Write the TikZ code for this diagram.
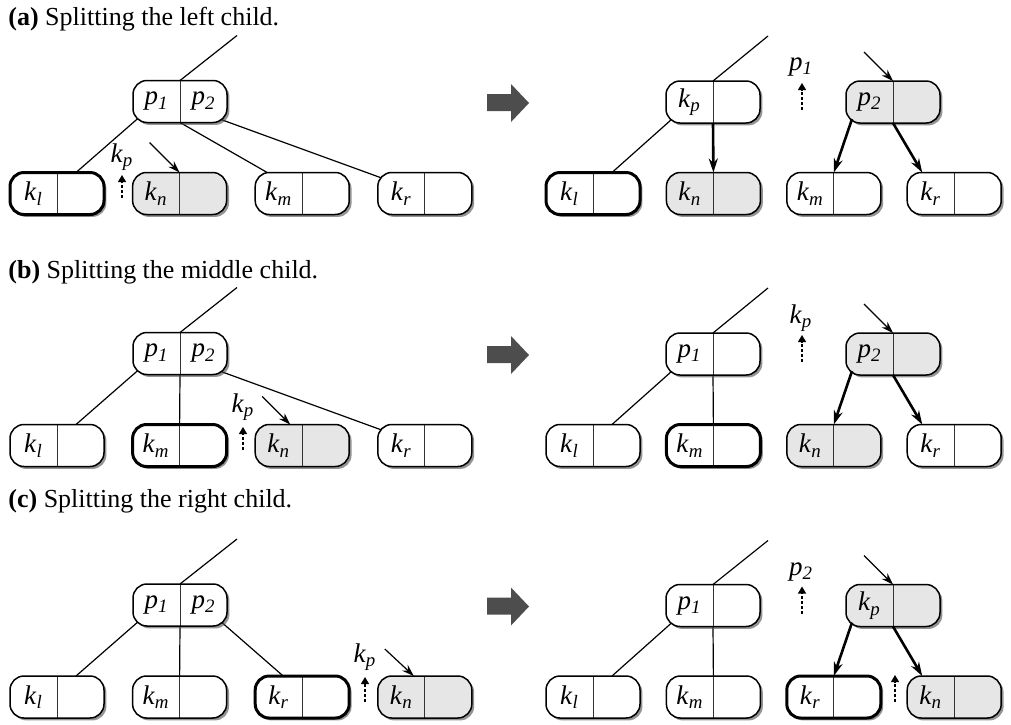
\documentclass[tikz,border=0pt]{standalone}
\usepackage{fontspec}
\setmainfont{Liberation Serif}
\usetikzlibrary{arrows.meta,positioning,calc,shadows,backgrounds}
\definecolor{cellgray}{HTML}{E6E6E6}
\definecolor{bigarrow}{HTML}{4D4D4D}
\newcommand{\cell}[2]{\makebox[23.5pt]{#1}\makebox[23.5pt]{#2}}
\newcommand{\ksub}[2]{\textit{#1}\textsubscript{\textit{#2}}}
\newcommand{\bigarr}{\fill[bigarrow] (487,94) -- (511,94) -- (511,84) -- (529,103)
  -- (511,122) -- (511,111) -- (487,111) -- cycle;}

\begin{document}
\begin{tikzpicture}[x=0.5pt,y=-0.5pt,
    bnode/.style={draw,line width=0.75pt,rounded corners=7pt,fill=white,
                  minimum width=47pt,minimum height=21pt,inner sep=0pt,outer sep=0pt,
                  font=\fontsize{13.5}{15}\selectfont,
                  drop shadow={shadow xshift=1.2pt,shadow yshift=-1.2pt,opacity=0.6,fill=black!70},
                  path picture={\draw[line width=0.5pt,black!80]
                    (path picture bounding box.north) -- (path picture bounding box.south);}},
    grayed/.style={fill=cellgray},
    heavy/.style={line width=1.5pt},
    edge/.style={line width=0.6pt},
    ptr/.style={line width=0.6pt,-{Stealth[length=6pt,width=4pt]}},
    bold/.style={line width=1.3pt,-{Stealth[length=7pt,width=4.5pt]}},
    dotarr/.style={line width=0.6pt,dash pattern=on 1.5pt off 1pt,
                   -{Triangle[length=3.5pt,width=4pt]}},
    lbl/.style={font=\fontsize{13.5}{15}\selectfont,inner sep=0pt},
    title/.style={font=\fontsize{13}{15}\selectfont,anchor=base west,inner sep=0pt}
  ]
  \useasboundingbox (0,0) rectangle (1011,724);

  % titles
  \node[title] (ta) at (8,25) {\textbf{(a)} Splitting the left child.};
  \node[title] (tb) at (8,278) {\textbf{(b)} Splitting the middle child.};
  \node[title] (tc) at (8,507) {\textbf{(c)} Splitting the right child.};

  % (a) left child
  \node[bnode] (a1-root) at (180,101.5) {\cell{\ksub{p}{1}}{\ksub{p}{2}}};
  \node[bnode,heavy] (a1-kl) at (57,193.5) {\cell{\ksub{k}{l}}{}};
  \node[bnode,grayed,right=14.3pt of a1-kl] (a1-kn) {\cell{\ksub{k}{n}}{}};
  \node[bnode,right=14.3pt of a1-kn] (a1-km) {\cell{\ksub{k}{m}}{}};
  \node[bnode,right=14.3pt of a1-km] (a1-kr) {\cell{\ksub{k}{r}}{}};
  \coordinate (a1-up) at (122,198);
  \node[lbl] (a1-kp) at (122,157) {\ksub{k}{p}};
  \bigarr
  \node[bnode] (a2-left) at (713,102) {\cell{\ksub{k}{p}}{}};
  \node[bnode,grayed] (a2-right) at (893,102) {\cell{\ksub{p}{2}}{}};
  \node[bnode,heavy] (a2-kl) at (593,193.5) {\cell{\ksub{k}{l}}{}};
  \node[bnode,grayed,right=13.2pt of a2-kl] (a2-kn) {\cell{\ksub{k}{n}}{}};
  \node[bnode,right=13.2pt of a2-kn] (a2-km) {\cell{\ksub{k}{m}}{}};
  \node[bnode,right=13.2pt of a2-km] (a2-kr) {\cell{\ksub{k}{r}}{}};
  \coordinate (a2-up) at (802,110);
  \node[lbl] (a2-p1) at (801,67) {\ksub{p}{1}};
  \begin{pgfonlayer}{background}
    \draw[edge] (a1-root.north) -- ++(57,-45);
    \draw[edge] ($(a1-root.south west)+(14,-12)$) -- ($(a1-kl.north)+(19,0)$);
    \draw[edge] (a1-root.south) -- ($(a1-km.north)+(-35,0)$);
    \draw[edge] ($(a1-root.south east)+(-17,-7)$) -- ($(a1-kr.north west)+(8,7)$);
    \draw[edge] (a2-left.north) -- ++(55,-45);
    \draw[edge] ($(a2-left.south west)+(15,-12)$) -- ($(a2-kl.north)+(19,0)$);
  \end{pgfonlayer}
  \draw[ptr] (a1-kn.north) ++(-30,-30) -- (a1-kn.north);
  \draw[dotarr] (a1-up) -- ++(0,-23);
  \draw[bold] (a2-left.south) -- (a2-kn.north);
  \draw[bold] ($(a2-right.south west)+(6,-4)$) -- (a2-km.north);
  \draw[bold] (a2-right.south) -- ($(a2-kr.north west)+(15,0)$);
  \draw[ptr] (a2-right.north) ++(-29,-29) -- (a2-right.north);
  \draw[dotarr] (a2-up) -- ++(0,-27);

  % (b) middle child
  \begin{scope}[shift={(0,252)}]
  \node[bnode] (b1-root) at (180,101.5) {\cell{\ksub{p}{1}}{\ksub{p}{2}}};
  \node[bnode] (b1-kl) at (57,193.5) {\cell{\ksub{k}{l}}{}};
  \node[bnode,heavy,right=14.3pt of b1-kl] (b1-km) {\cell{\ksub{k}{m}}{}};
  \node[bnode,grayed,right=14.3pt of b1-km] (b1-kn) {\cell{\ksub{k}{n}}{}};
  \node[bnode,right=14.3pt of b1-kn] (b1-kr) {\cell{\ksub{k}{r}}{}};
  \coordinate (b1-up) at (243,198);
  \node[lbl] (b1-kp) at (243,155) {\ksub{k}{p}};
  \bigarr
  \node[bnode] (b2-left) at (713,102) {\cell{\ksub{p}{1}}{}};
  \node[bnode,grayed] (b2-right) at (893,102) {\cell{\ksub{p}{2}}{}};
  \node[bnode] (b2-kl) at (593,193.5) {\cell{\ksub{k}{l}}{}};
  \node[bnode,heavy,right=13.2pt of b2-kl] (b2-km) {\cell{\ksub{k}{m}}{}};
  \node[bnode,grayed,right=13.2pt of b2-km] (b2-kn) {\cell{\ksub{k}{n}}{}};
  \node[bnode,right=13.2pt of b2-kn] (b2-kr) {\cell{\ksub{k}{r}}{}};
  \coordinate (b2-up) at (802,110);
  \node[lbl] (b2-kp) at (801,66) {\ksub{k}{p}};
  \begin{pgfonlayer}{background}
    \draw[edge] (b1-root.north) -- ++(57,-45);
    \draw[edge] ($(b1-root.south west)+(14,-12)$) -- ($(b1-kl.north)+(19,0)$);
    \draw[edge] (b1-root.south) -- (b1-km.north);
    \draw[edge] ($(b1-root.south east)+(-17,-7)$) -- ($(b1-kr.north west)+(8,7)$);
    \draw[edge] (b2-left.north) -- ++(55,-45);
    \draw[edge] ($(b2-left.south west)+(15,-12)$) -- ($(b2-kl.north)+(19,0)$);
    \draw[edge] (b2-left.south) -- (b2-km.north);
  \end{pgfonlayer}
  \draw[ptr] (b1-kn.north) ++(-40,-28) -- ($(b1-kn.north)+(-12,0)$);
  \draw[dotarr] (b1-up) -- ++(0,-23);
  \draw[bold] ($(b2-right.south west)+(6,-4)$) -- (b2-kn.north);
  \draw[bold] (b2-right.south) -- ($(b2-kr.north west)+(15,0)$);
  \draw[ptr] (b2-right.north) ++(-29,-29) -- (b2-right.north);
  \draw[dotarr] (b2-up) -- ++(0,-27);
  \end{scope}

  % (c) right child
  \begin{scope}[shift={(0,503.5)}]
  \node[bnode] (c1-root) at (180,101.5) {\cell{\ksub{p}{1}}{\ksub{p}{2}}};
  \node[bnode] (c1-kl) at (57,193.5) {\cell{\ksub{k}{l}}{}};
  \node[bnode,right=14.3pt of c1-kl] (c1-km) {\cell{\ksub{k}{m}}{}};
  \node[bnode,heavy,right=14.3pt of c1-km] (c1-kr) {\cell{\ksub{k}{r}}{}};
  \node[bnode,grayed,right=14.3pt of c1-kr] (c1-kn) {\cell{\ksub{k}{n}}{}};
  \coordinate (c1-up) at (365,198.5);
  \node[lbl] (c1-kp) at (365,153.5) {\ksub{k}{p}};
  \bigarr
  \node[bnode] (c2-left) at (713,102) {\cell{\ksub{p}{1}}{}};
  \node[bnode,grayed] (c2-right) at (893,102) {\cell{\ksub{k}{p}}{}};
  \node[bnode] (c2-kl) at (593,193.5) {\cell{\ksub{k}{l}}{}};
  \node[bnode,right=13.2pt of c2-kl] (c2-km) {\cell{\ksub{k}{m}}{}};
  \node[bnode,heavy,right=13.2pt of c2-km] (c2-kr) {\cell{\ksub{k}{r}}{}};
  \node[bnode,grayed,right=13.2pt of c2-kr] (c2-kn) {\cell{\ksub{k}{n}}{}};
  \coordinate (c2-up) at (802,110);
  \coordinate (c2-low) at (895,198.5);
  \node[lbl] (c2-p2) at (801,68.5) {\ksub{p}{2}};
  \begin{pgfonlayer}{background}
    \draw[edge] (c1-root.north) -- ++(57,-45);
    \draw[edge] ($(c1-root.south west)+(14,-12)$) -- ($(c1-kl.north)+(19,0)$);
    \draw[edge] (c1-root.south) -- (c1-km.north);
    \draw[edge] ($(c1-root.south east)+(-16,-13)$) -- ($(c1-kr.north)+(-19,0)$);
    \draw[edge] (c2-left.north) -- ++(55,-44);
    \draw[edge] ($(c2-left.south west)+(15,-12)$) -- ($(c2-kl.north)+(19,0)$);
    \draw[edge] (c2-left.south) -- (c2-km.north);
  \end{pgfonlayer}
  \draw[ptr] (c1-kn.north) ++(-40,-27) -- ($(c1-kn.north)+(-11,0)$);
  \draw[dotarr] (c1-up) -- ++(0,-25);
  \draw[bold] ($(c2-right.south west)+(6,-4)$) -- (c2-kr.north);
  \draw[bold] (c2-right.south) -- ($(c2-kn.north west)+(15,0)$);
  \draw[ptr] (c2-right.north) ++(-29,-29) -- (c2-right.north);
  \draw[dotarr] (c2-up) -- ++(0,-27);
  \draw[dotarr] (c2-low) -- ++(0,-27);
  \end{scope}
\end{tikzpicture}
\end{document}
